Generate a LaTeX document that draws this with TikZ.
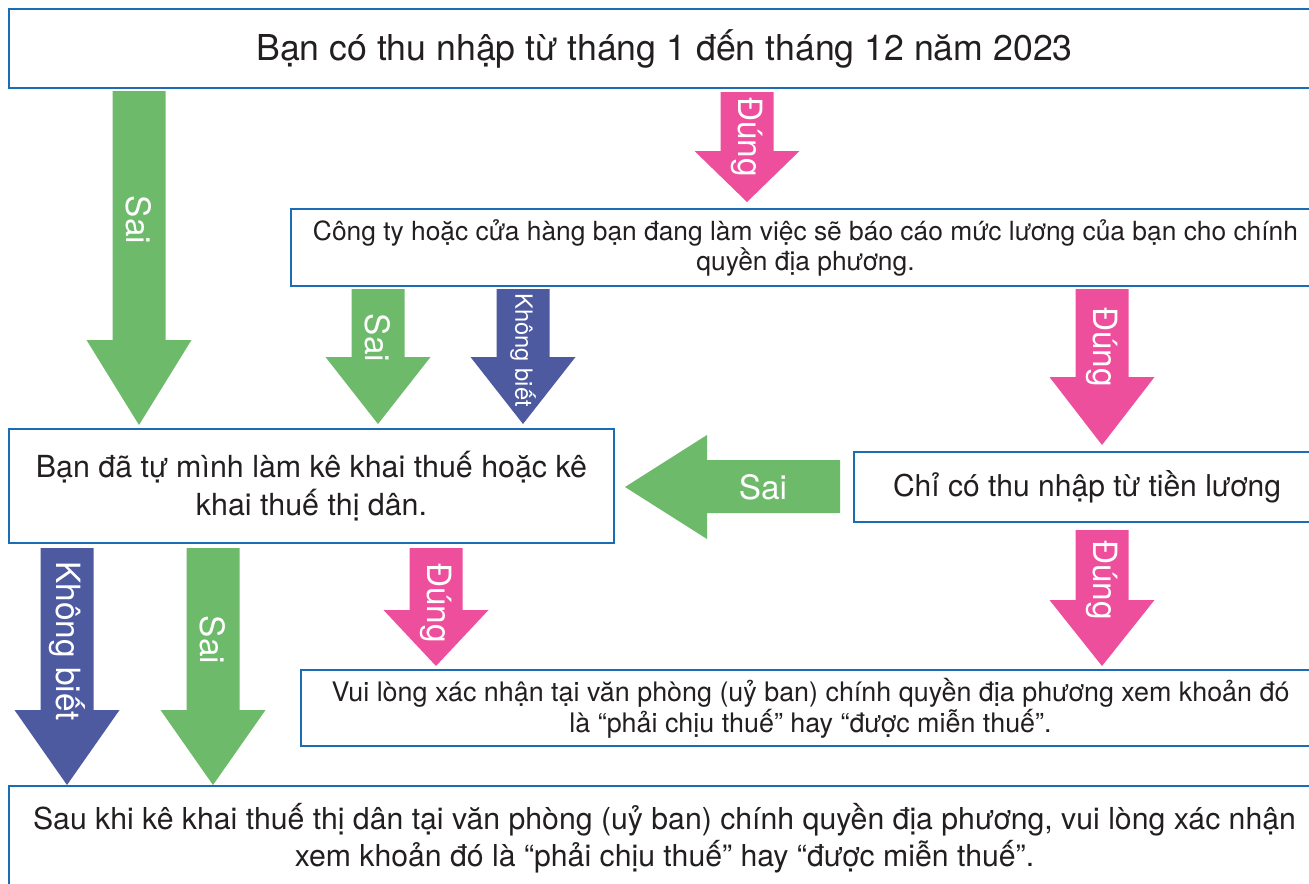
\documentclass[tikz,border=0pt]{standalone}
\usepackage{fontspec}
\setmainfont{TeX Gyre Heros}
\definecolor{boxblue}{HTML}{1C6BB5}
\definecolor{nogreen}{HTML}{6DBA6A}
\definecolor{yespink}{HTML}{EE4F9D}
\definecolor{unkblue}{HTML}{4D5AA0}
\definecolor{inkgray}{HTML}{231F20}
\newcommand{\fsz}[2]{\fontsize{#1pt}{#2pt}\selectfont}
\newcommand{\downblock}[8]{%
  \fill[#6] (#2-26.5,#3) -- (#2+26.5,#3) -- (#2+26.5,#4) -- (#2+52.5,#4)
    -- (#2,#5) -- (#2-52.5,#4) -- (#2-26.5,#4) -- cycle;
  \node[lbl, rotate=-90] (#1) at (#2,#7) {#8};}
\begin{document}
\begin{tikzpicture}[x=0.02cm, y=-0.02cm,
    box/.style={draw=boxblue, line width=1.2pt, fill=white, text=inkgray,
      align=center, inner sep=0pt},
    lbl/.style={text=white, inner sep=0pt, font=\fsz{19}{21}}]
  \useasboundingbox (0,0) rectangle (1309,883);
  \clip (0,0) rectangle (1309,883);
  \fill[white] (0,0) rectangle (1309,883);

  \node[box, minimum width=26.22cm, minimum height=1.58cm, font=\fsz{20.3}{23}]
    (income) at (664.5,48.5) {Bạn có thu nhập từ tháng 1 đến tháng 12 năm 2023};
  \node[box, minimum width=20.58cm, minimum height=1.54cm, font=\fsz{15}{17}]
    (employer) at (805.5,247.5) {Công ty hoặc cửa hàng bạn đang làm việc sẽ báo cáo mức lương của bạn cho chính\\quyền địa phương.};
  \node[box, minimum width=12.1cm, minimum height=2.28cm, font=\fsz{17.3}{21.6}]
    (selfdecl) at (311.5,486) {Bạn đã tự mình làm kê khai thuế hoặc kê\\khai thuế thị dân.};
  \node[box, minimum width=9.32cm, minimum height=1.4cm, font=\fsz{17.1}{21}]
    (salary) at (1087,487) {Chỉ có thu nhập từ tiền lương};
  \node[box, minimum width=20.38cm, minimum height=1.52cm, font=\fsz{15.3}{17.6}]
    (confirm) at (810.5,708) {Vui lòng xác nhận tại văn phòng (uỷ ban) chính quyền địa phương xem khoản đó\\là “phải chịu thuế” hay “được miễn thuế”.};
  \node[box, minimum width=26.22cm, minimum height=2.08cm, font=\fsz{17.2}{21}]
    (citytax) at (664.5,838) {Sau khi kê khai thuế thị dân tại văn phòng (uỷ ban) chính quyền địa phương, vui lòng xác nhận\\xem khoản đó là “phải chịu thuế” hay “được miễn thuế”.};

  \downblock{noincome}{139}{91}{340}{425}{nogreen}{220}{Sai}
  \downblock{yesincome}{747}{92}{151}{202}{yespink}{137}{Đúng}
  \downblock{noreport}{378}{289}{357}{424}{nogreen}{338}{Sai}
  \downblock{unkreport}{523}{289}{357}{424}{unkblue}{350}{\fsz{13.5}{15}Không biết}
  \downblock{yesreport}{1102}{289}{377}{445}{yespink}{347}{Đúng}
  \downblock{yesdecl}{436}{548}{610}{666}{yespink}{603}{Đúng}
  \downblock{yessalary}{1102}{530}{600}{666}{yespink}{580}{Đúng}
  \downblock{unkdecl}{67}{548}{710}{785}{unkblue}{641}{Không biết}
  \downblock{nodecl}{213}{548}{710}{785}{nogreen}{640}{Sai}

  \fill[nogreen] (840,460) -- (707,460) -- (707,435) -- (625,487) -- (707,539)
    -- (707,513) -- (840,513) -- cycle;
  \node[lbl] (nosalary) at (763,487) {Sai};
\end{tikzpicture}
\end{document}
